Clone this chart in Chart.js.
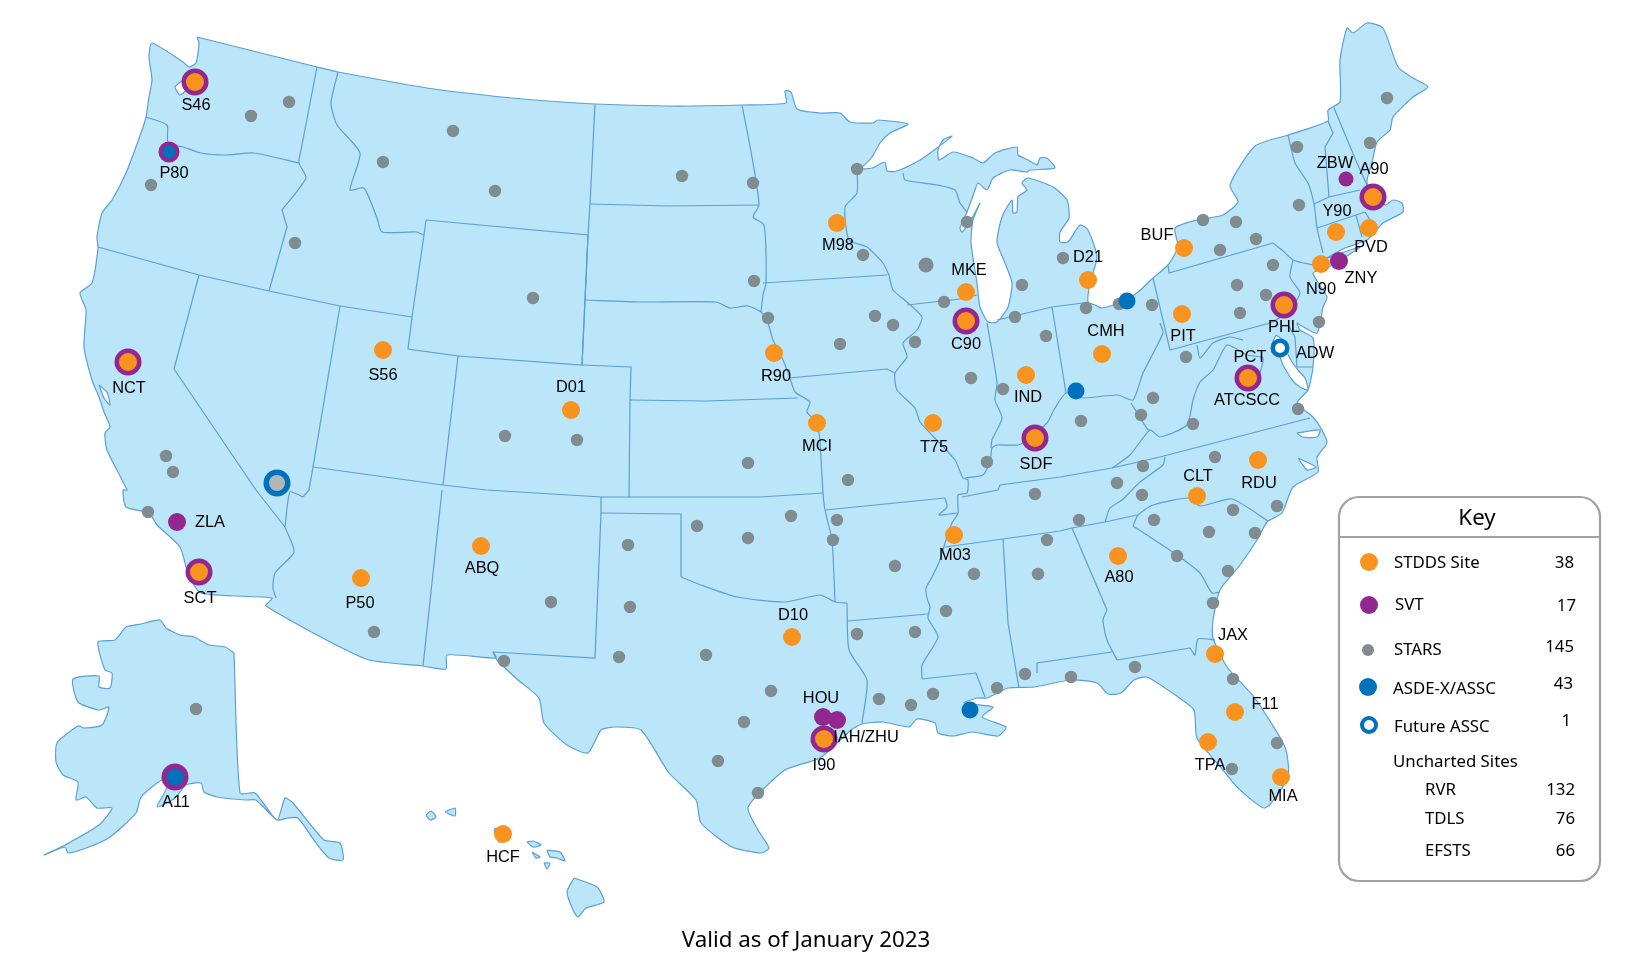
<!DOCTYPE html>
<html>
<head>
<meta charset="utf-8">
<title>Valid as of January 2023</title>
<script src="https://cdn.jsdelivr.net/npm/chart.js@4"></script>
<style>
  html, body { margin: 0; padding: 0; background: #fff; }
  #map { display: block; }
</style>
</head>
<body>
<canvas id="map" width="1640" height="979"></canvas>
<script>
// map coordinates (x across, y down)
const mainland = [[197,37],[317,67],[338,72],[434,89],[523,99],[595,104],[669,106],[743,105],[786,103],[785,91],[791,92],[797,109],[820,113],[840,113],[850,122],[873,123],[878,120],[908,124],[890,133],[880,143],[872,157],[862,167],[857,169],[872,168],[885,162],[887,171],[897,171],[920,160],[937,148],[952,136],[943,140],[938,150],[939,160],[953,152],[973,158],[983,163],[995,153],[1017,147],[1018,155],[1028,160],[1037,165],[1040,158],[1047,158],[1055,168],[1030,170],[1027,172],[1010,170],[993,178],[987,190],[978,183],[975,190],[967,212],[960,228],[962,232],[970,222],[980,203],[973,220],[971,243],[977,283],[980,307],[988,322],[997,322],[1008,307],[1012,283],[1005,263],[997,242],[1002,217],[1012,200],[1013,213],[1017,212],[1018,197],[1027,190],[1022,183],[1028,178],[1053,187],[1067,200],[1069,218],[1060,232],[1060,242],[1068,242],[1080,225],[1088,230],[1097,257],[1090,283],[1088,302],[1095,305],[1102,308],[1118,303],[1137,293],[1153,278],[1168,265],[1178,247],[1175,228],[1197,220],[1223,215],[1238,202],[1230,185],[1255,146],[1288,135],[1328,121],[1328,110],[1340,102],[1340,60],[1347,28],[1353,33],[1367,23],[1383,28],[1398,67],[1413,78],[1428,87],[1413,97],[1393,117],[1390,130],[1377,142],[1372,163],[1367,183],[1385,205],[1393,200],[1402,203],[1403,212],[1383,223],[1367,240],[1345,248],[1327,258],[1360,247],[1327,268],[1313,273],[1327,297],[1323,307],[1317,333],[1300,325],[1297,323],[1300,330],[1313,338],[1313,367],[1308,390],[1297,403],[1313,417],[1322,430],[1327,443],[1317,457],[1318,472],[1293,487],[1282,513],[1267,522],[1257,540],[1240,565],[1220,590],[1213,620],[1213,638],[1227,667],[1254,697],[1285,747],[1288,777],[1265,808],[1238,788],[1223,770],[1197,738],[1194,710],[1178,697],[1147,677],[1134,680],[1121,693],[1108,694],[1097,683],[1071,680],[1034,687],[1008,688],[987,698],[977,698],[964,703],[993,707],[982,717],[1006,727],[998,736],[972,732],[953,736],[938,733],[935,723],[917,719],[909,727],[883,722],[862,724],[851,730],[820,758],[785,770],[748,807],[758,830],[769,848],[761,853],[732,847],[701,823],[696,800],[669,773],[641,730],[615,727],[601,730],[588,753],[567,745],[544,723],[539,698],[518,680],[497,660],[493,652],[496,658],[447,655],[446,669],[423,666],[366,659],[266,606],[272,598],[201,593],[188,573],[180,547],[157,525],[149,513],[126,507],[123,490],[127,490],[107,450],[105,433],[110,427],[104,412],[99,397],[92,380],[84,347],[86,310],[80,293],[92,283],[98,248],[97,237],[102,213],[112,200],[126,173],[141,133],[146,117],[149,97],[152,80],[149,57],[152,43],[183,62],[189,67],[196,63],[199,43],[197,37]];
const alaska = [[234,653],[240,793],[255,793],[277,820],[285,798],[293,803],[324,840],[340,843],[343,860],[329,858],[316,843],[298,818],[288,818],[277,820],[256,800],[246,800],[217,797],[204,792],[201,783],[186,785],[175,798],[157,807],[167,787],[162,780],[141,797],[136,813],[110,837],[89,847],[68,853],[65,847],[44,855],[65,845],[99,825],[112,808],[97,808],[86,797],[76,800],[78,782],[63,775],[56,762],[57,743],[78,726],[84,728],[102,725],[109,707],[99,710],[78,702],[73,679],[99,676],[99,687],[110,688],[112,673],[105,670],[98,642],[115,640],[126,627],[141,624],[160,620],[166,628],[180,635],[194,637],[209,645],[225,647],[234,653]];
const hawaiiIslands = [
  [[574,878],[597,887],[604,902],[586,908],[578,917],[573,910],[567,892],[574,878]],
  [[547,850],[560,852],[565,861],[557,858],[550,857],[547,850]],
  [[527,842],[533,841],[541,845],[533,847],[527,842]],
  [[532,852],[540,857],[536,858],[532,852]],
  [[544,863],[550,863],[547,869],[544,863]],
  [[426,815],[431,811],[436,817],[430,820],[426,815]],
  [[445,812],[455,808],[455,816],[445,812]],
  [[494,829],[505,827],[510,837],[499,842],[494,829]]
];
const waterInlets = [
  [[183,80],[175,87],[180,95],[186,90],[183,80]],
  [[1276,335],[1272,345],[1279,355],[1283,365],[1287,372],[1292,380],[1300,387],[1308,390],[1305,378],[1298,370],[1292,362],[1287,352],[1283,340],[1276,335]],
  [[99,385],[107,392],[110,405],[104,398],[99,385]],
  [[1297,433],[1320,430],[1317,437],[1302,437],[1297,433]],
  [[1298,458],[1316,467],[1307,470],[1298,458]]
];
// surveyed lines stay straight between their corners
const straightBorders = [
  [[282,210],[287,227],[269,291]],
  [[98,247],[199,275],[269,291],[340,306],[412,317]],
  [[199,275],[174,369],[256,490],[285,527]],
  [[340,306],[313,467],[309,490],[303,497]],
  [[412,317],[408,349],[458,356],[443,485]],
  [[426,220],[588,235],[582,365],[458,356]],
  [[426,220],[424,235],[412,317]],
  [[595,104],[590,204],[588,235],[585,300],[582,365]],
  [[590,204],[669,206],[759,205]],
  [[582,365],[631,367],[630,400],[629,497]],
  [[630,400],[706,401],[798,398]],
  [[763,283],[887,275]],
  [[789,378],[887,369],[895,373]],
  [[922,679],[976,673]],
  [[907,305],[960,299],[977,295]],
  [[825,510],[945,498]],
  [[313,467],[443,485],[486,490],[602,497],[629,497],[760,497],[823,493]],
  [[442,490],[423,666]],
  [[601,497],[601,513],[595,658],[493,652]],
  [[601,513],[681,514],[681,577]],
  [[848,621],[928,614]],
  [[962,497],[998,490],[1000,485],[1060,477],[1112,468],[1160,457],[1310,418]],
  [[945,547],[1003,539],[1060,531],[1072,528],[1105,522],[1137,515]],
  [[1003,539],[1008,623],[1019,688]],
  [[1072,528],[1107,610]],
  [[1037,673],[1037,663],[1112,652]],
  [[1117,660],[1190,648]],
  [[1153,278],[1170,350],[1270,323]],
  [[1168,265],[1169,273],[1273,243]],
  [[1288,325],[1295,337],[1297,367],[1313,367]],
  [[997,320],[1052,307],[1083,303]],
  [[1052,307],[1066,393]],
  [[1328,121],[1333,133],[1325,147],[1329,197]],
  [[1334,108],[1357,163],[1367,185]],
  [[1314,204],[1329,197],[1360,190]],
  [[1317,228],[1365,212]],
  [[1356,215],[1362,237]],
  [[1365,212],[1372,223]]
];
// rivers and ridges
const riverBorders = [
  [[317,67],[301,150],[299,163],[306,178],[282,210]],
  [[146,117],[167,125],[168,143],[183,147],[201,153],[225,155],[254,153],[299,163]],
  [[285,527],[294,552],[275,573],[273,588],[276,598]],
  [[303,497],[290,492],[285,527]],
  [[338,72],[331,103],[337,125],[360,153],[350,190],[364,188],[377,218],[382,232],[416,232],[424,235]],
  [[742,105],[752,157],[759,205],[753,217],[764,225],[766,283],[763,295],[761,312]],
  [[585,300],[643,302],[716,302],[730,308],[748,306],[761,312],[767,320],[773,340],[783,360],[790,378],[795,392],[810,402],[807,412],[817,423],[820,440]],
  [[820,440],[823,493],[825,510],[832,540],[835,602]],
  [[889,275],[893,290],[907,302],[922,317],[917,330],[903,343],[907,357],[895,373],[897,390],[915,408],[920,422],[932,435],[955,460],[963,478],[968,480],[967,493],[958,495],[958,513],[952,523],[945,543],[940,560],[932,577],[926,588],[927,598],[930,607],[928,618],[938,637],[922,665],[922,679]],
  [[976,673],[985,697]],
  [[857,169],[857,193],[845,207],[849,240],[867,247],[883,263],[889,275]],
  [[945,498],[947,507],[939,515],[957,513]],
  [[681,577],[701,585],[737,597],[785,602],[820,595],[835,602],[847,603]],
  [[847,603],[849,650],[867,680],[862,723]],
  [[1107,610],[1103,620],[1107,640],[1117,660]],
  [[1190,648],[1195,655],[1198,639],[1215,640]],
  [[1133,526],[1150,537],[1177,555],[1200,573],[1212,593],[1220,592]],
  [[1133,526],[1138,515],[1153,505],[1188,498],[1200,506],[1232,499],[1268,521]],
  [[1165,457],[1163,465],[1140,482],[1122,500],[1110,508],[1105,522]],
  [[1112,468],[1130,455],[1150,430],[1160,437],[1187,425],[1193,400],[1200,382],[1213,370],[1227,345],[1247,355],[1263,358],[1260,373]],
  [[1197,345],[1200,358],[1213,343],[1230,337],[1243,340]],
  [[1273,243],[1282,250],[1293,260],[1313,265]],
  [[1293,260],[1290,277],[1300,293],[1287,313],[1270,323]],
  [[1160,323],[1163,333],[1143,373],[1133,400],[1118,395],[1081,398],[1066,393],[1055,408],[1047,423],[1027,440],[1018,445],[997,445],[992,448],[990,462],[983,475],[965,478]],
  [[1131,403],[1148,430],[1150,430]],
  [[987,323],[990,340],[997,383],[995,400],[1002,418],[992,440],[991,448]],
  [[903,173],[905,180],[937,185],[955,190],[960,203],[967,212]],
  [[1288,135],[1295,163],[1308,183],[1314,204],[1317,228],[1323,253]]
];

// sites by kind
const stddsSites = [[195,82],[128,362],[383,350],[571,410],[774,353],[817,423],[837,223],[966,292],[966,321],[1088,280],[1184,248],[1182,314],[1102,354],[1026,375],[933,423],[1035,438],[1284,305],[1248,378],[1373,197],[1336,232],[1369,228],[1321,264],[1258,460],[1197,496],[481,546],[361,578],[199,572],[503,834],[792,637],[824,739],[954,535],[1118,556],[1215,654],[1235,712],[1208,742],[1281,777]];
const svtRingSites = [[195,82],[128,362],[199,572],[966,321],[1035,438],[1284,305],[1248,378],[1373,197],[824,739],[175,777]];
const svtPortlandSite = [[169,152]];
const svtSites = [[177,522],[823,717],[837,720],[1339,261]];
const svtSmallSites = [[1346,179]];
const starsSites = [[289,102],[251,116],[151,185],[295,243],[453,131],[383,162],[495,191],[682,176],[753,183],[533,298],[754,281],[768,318],[505,436],[577,440],[748,463],[166,456],[173,472],[148,512],[374,632],[551,602],[628,545],[630,607],[619,657],[706,655],[504,661],[697,526],[748,538],[791,516],[771,691],[744,722],[718,761],[758,793],[196,709],[848,480],[837,520],[833,540],[895,566],[974,574],[946,611],[1038,574],[1047,540],[1035,494],[987,462],[857,634],[915,632],[1003,389],[971,378],[857,169],[863,255],[944,302],[967,222],[875,316],[893,325],[840,344],[915,342],[1015,317],[1046,336],[1022,285],[1063,258],[1086,308],[1119,304],[1152,305],[1203,220],[1236,222],[1220,250],[1256,239],[1297,147],[1299,205],[1387,98],[1370,143],[1273,265],[1237,285],[1266,295],[1240,313],[1319,322],[1186,357],[1153,398],[1141,415],[1193,424],[1298,409],[1081,421],[1215,457],[1143,466],[1117,483],[1079,520],[1154,520],[1142,495],[1233,510],[1277,506],[1209,532],[1255,533],[1177,556],[1228,571],[1213,603],[879,699],[911,705],[933,694],[997,688],[1025,674],[1071,677],[1135,667],[1233,679],[1277,743],[1232,769]];
const starsLargeSites = [[926,265]];
const asdeSites = [[1127,301],[1076,391],[970,710],[175,777]];
const asdePortlandSite = [[169,152]];
const lasVegasOuter = [[277,483]];
const futureAssc = [[1280,348]];

const siteLabels = [['S46',196,105],['P80',174,173],['NCT',129,388],['S56',383,375],['D01',571,387],['R90',776,376],['MCI',817,446],['T75',934,447],['SDF',1036,464],['IND',1028,397],['M03',955,555],['D10',793,615],['M98',838,245],['MKE',969,270],['C90',966,344],['D21',1088,257],['CMH',1106,331],['BUF',1157,235],['PIT',1183,336],['PHL',1284,327],['PCT',1250,357],['ATCSCC',1247,400],['ADW',1315,353],['N90',1321,289],['PVD',1371,247],['ZNY',1361,278],['Y90',1337,211],['CLT',1198,476],['RDU',1259,483],['ZBW',1335,163],['A90',1374,169],['ZLA',210,522],['SCT',200,598],['P50',360,603],['ABQ',482,568],['A11',176,802],['HCF',503,857],['HOU',821,698],['IAH/ZHU',866,737],['I90',824,765],['JAX',1233,635],['F11',1265,704],['TPA',1210,765],['MIA',1283,796],['A80',1119,577]];

// key contents
const keyNames = ['STDDS Site','SVT','STARS','ASDE-X/ASSC','Future ASSC'];
const keyCounts = [38,17,145,43,1];
const unchartedNames = ['RVR','TDLS','EFSTS'];
const unchartedCounts = [132,76,66];
const keyNamePos = [[1394,563],[1395,605],[1394,650],[1393,689],[1394,727]];
const keyCountPos = [[1574,563],[1576,606],[1574,647],[1573,684],[1571,721]];
const keyMarkPos = [[1369,562],[1369,605],[1368,650],[1368,687],[1369,725]];
const unchartedRows = [790,819,851];

const BLUE = '#0071bc', ORANGE = '#f8931f', PURPLE = '#92278f', GREY = '#808c90';
const LAND = '#bbe5f9', EDGE = '#5b9fd6';

function area(points, fillColor, order) {
    return { data: points, showLine: true, fill: 'shape', backgroundColor: fillColor, borderColor: EDGE, borderWidth: 1.2, pointRadius: 0, tension: 0.2, order: order };
}
function border(points, tension) {
    return { data: points, showLine: true, fill: false, borderColor: EDGE, borderWidth: 1.2, pointRadius: 0, tension: tension, order: 90 };
}
function sites(points, color, radius, order) {
    return { data: points, showLine: false, pointRadius: radius, pointBackgroundColor: color, pointBorderWidth: 0, order: order };
}

const datasets = [
    area(mainland, LAND, 100),
    area(alaska, LAND, 100),
    ...hawaiiIslands.map(p => area(p, LAND, 100)),
    ...straightBorders.map(p => border(p, 0)),
    ...riverBorders.map(p => border(p, 0.2)),
    ...waterInlets.map(p => area(p, '#ffffff', 80)),
    sites(starsSites, GREY, 6.2, 60),
    sites(starsLargeSites, GREY, 7.5, 60),
    sites(lasVegasOuter, BLUE, 13.5, 50),
    sites(lasVegasOuter, '#b1b6b9', 8, 49),
    sites(svtRingSites, PURPLE, 13.5, 40),
    sites(svtPortlandSite, PURPLE, 10.5, 40),
    sites(svtSites, PURPLE, 9, 39),
    sites(svtSmallSites, PURPLE, 7.5, 39),
    sites(stddsSites, ORANGE, 9, 30),
    sites(asdeSites, BLUE, 8.5, 30),
    sites(asdePortlandSite, BLUE, 6.5, 30),
    sites(futureAssc, BLUE, 9.5, 30),
    sites(futureAssc, '#ffffff', 5, 29),
    // key markers, on top of the key box
    sites([keyMarkPos[0]], ORANGE, 9, 10),
    sites([keyMarkPos[1]], PURPLE, 9, 10),
    sites([keyMarkPos[2]], GREY, 6, 10),
    sites([keyMarkPos[3]], BLUE, 9, 10),
    sites([keyMarkPos[4]], BLUE, 9, 10),
    sites([keyMarkPos[4]], '#ffffff', 5, 9)
];

const textLayer = {
    id: 'textLayer',
    beforeDatasetsDraw(chart) {
        const { ctx, scales: { x, y } } = chart;
        ctx.save();
        ctx.beginPath();
        ctx.roundRect(x.getPixelForValue(1339), y.getPixelForValue(497), 261, 384, 20);
        ctx.moveTo(x.getPixelForValue(1339), y.getPixelForValue(537));
        ctx.lineTo(x.getPixelForValue(1600), y.getPixelForValue(537));
        ctx.strokeStyle = '#a2a2a2';
        ctx.lineWidth = 2.2;
        ctx.stroke();
        ctx.restore();
    },
    afterDatasetsDraw(chart) {
        const { ctx, scales: { x, y } } = chart;
        const put = (text, px, py, align) => {
            ctx.textAlign = align;
            ctx.fillText(text, x.getPixelForValue(px), y.getPixelForValue(py));
        };
        ctx.save();
        ctx.textBaseline = 'middle';
        ctx.fillStyle = '#000';

        ctx.font = '16.4px "Liberation Sans"';
        siteLabels.forEach(l => put(l[0], l[1], l[2], 'center'));

        ctx.font = '16.8px "Noto Sans"';
        keyNames.forEach((name, i) => put(name, keyNamePos[i][0], keyNamePos[i][1], 'left'));
        keyCounts.forEach((n, i) => put(String(n), keyCountPos[i][0], keyCountPos[i][1], 'right'));
        put('Uncharted Sites', 1393, 762, 'left');
        unchartedNames.forEach((name, i) => put(name, 1425, unchartedRows[i], 'left'));
        unchartedCounts.forEach((n, i) => put(String(n), 1575, unchartedRows[i], 'right'));

        ctx.font = '22.3px "Noto Sans"';
        put('Key', 1477, 519, 'center');
        put('Valid as of January 2023', 806, 941, 'center');
        ctx.restore();
    }
};

new Chart(document.getElementById('map'), {
    type: 'scatter',
    data: { datasets: datasets },
    plugins: [textLayer],
    options: {
        responsive: false,
        animation: false,
        events: [],
        devicePixelRatio: 1,
        layout: { padding: 0, autoPadding: false },
        plugins: { legend: { display: false }, tooltip: { enabled: false }, title: { display: false } },
        scales: {
            x: { type: 'linear', display: false, min: 0, max: 1640 },
            y: { type: 'linear', display: false, min: 0, max: 979, reverse: true }
        }
    }
});
</script>
</body>
</html>
